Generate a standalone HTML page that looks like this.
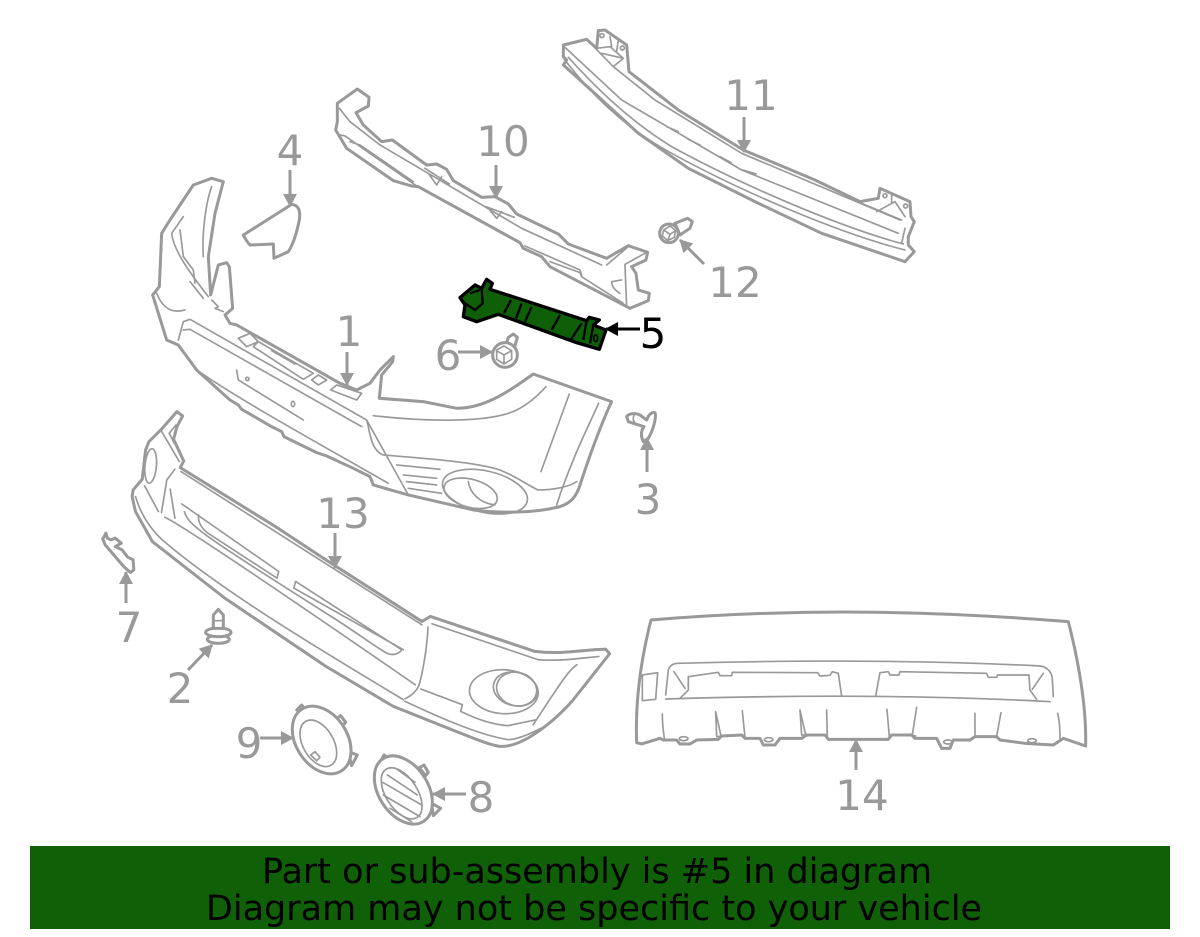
<!DOCTYPE html>
<html><head><meta charset="utf-8"><style>
html,body{margin:0;padding:0;background:#fff}
svg{display:block}
text{font-family:"DejaVu Sans",sans-serif}
.p{fill:#fff;stroke:#999;stroke-width:9;stroke-linejoin:round;stroke-linecap:round}
.t{fill:none;stroke:#999;stroke-width:5;stroke-linejoin:round;stroke-linecap:round}
.n{font-size:42px;fill:#999;text-anchor:middle}
.a{stroke:#999;stroke-width:3;fill:none}
</style></head><body>
<svg width="1200" height="937" viewBox="0 0 1200 937" xmlns="http://www.w3.org/2000/svg">
<defs>
<marker id="g" markerUnits="userSpaceOnUse" markerWidth="14" markerHeight="16" refX="12" refY="8" orient="auto"><path d="M0 1L13 8L0 15Z" fill="#999"/></marker>
<marker id="k" markerUnits="userSpaceOnUse" markerWidth="14" markerHeight="16" refX="12" refY="8" orient="auto"><path d="M0 1L13 8L0 15Z" fill="#000"/></marker>
</defs>
<rect width="1200" height="937" fill="#fff"/>

<!-- part 1 + part 4 + part 6 -->
<g transform="translate(140 170) scale(.3333)">
<path class="p" d="M38 375L58 350L65 190L90 150L160 45L215 25L250 35L225 130L205 260L212 375L235 285L260 278L268 290L278 415L255 435L270 460L290 465L600 640L650 660L690 640L720 600L760 560L758 575L725 615L718 685L850 695L950 715C1030 715 1100 670 1180 612L1415 695C1380 770 1345 870 1325 930C1310 985 1290 1000 1260 1010C1180 1030 1080 1030 1000 1020L805 975L700 945L690 920L640 895L560 858L530 848L432 800L425 785L395 770L305 718L295 705L270 690L170 600L115 525L80 510Z"/>
<path class="t" d="M205 380C150 310 100 240 95 190L130 140M120 180L130 260L160 300L165 340M190 260C185 180 200 90 215 50M150 335L190 385M50 370C70 420 100 430 135 420M115 510L130 455L150 448L680 750C690 780 690 840 730 855C850 865 1000 875 1080 900C1130 920 1170 950 1195 960C1240 960 1290 950 1310 935M130 480L150 478L665 770M170 600C300 690 500 800 745 940M290 600L295 630L490 750M700 737C850 755 1050 760 1130 720C1170 700 1200 670 1218 650M1288 672L1203 905M1376 700C1340 780 1290 880 1250 1005M680 750L805 975M770 885L900 898M790 915L890 925M800 935L890 945M805 955L905 970"/>
<ellipse class="t" cx="1035" cy="965" rx="130" ry="62" transform="rotate(13 1035 965)"/>
<ellipse class="t" cx="992" cy="970" rx="82" ry="42" transform="rotate(15 992 970)"/>
<path class="t" d="M985 935C990 970 1020 1000 1065 1005"/>
<path class="t" d="M295 505L330 490L355 515L320 530ZM340 530L355 515L520 610L490 628ZM395 542L465 582M515 630L535 615L560 630L535 645ZM572 660L590 645L665 670L650 690Z"/>
<circle class="t" cx="322" cy="627" r="5"/><ellipse class="t" cx="459" cy="702" rx="5" ry="8"/>
<path class="t" d="M215 390L235 410L225 415L250 425"/>
<!-- part 4 -->
<path class="p" d="M310 195L455 103C475 105 482 120 478 150C470 190 458 225 445 245L402 265L400 222L330 225C320 215 315 205 310 195Z"/>
</g>

<!-- part 6 -->
<g transform="translate(430 260) scale(.3333)">
<path class="p" d="M225 265L235 232L250 222L262 232L252 268Z"/>
<circle class="p" cx="225" cy="285" r="37"/>
<path class="t" d="M200 270L222 258L245 272L245 298L222 312L200 298ZM200 272L222 285L245 272M222 285L222 312"/>
</g>

<!-- part 13, 7 -->
<g transform="translate(90 400) scale(.337 .333)">
<path class="p" d="M258 35L275 48L258 80L248 118L278 183L268 203L550 380L700 480L985 665L1010 650L1320 755C1400 765 1460 750 1530 748L1542 762L1430 905C1390 950 1350 985 1300 1015C1270 1032 1240 1042 1215 1040C1180 1036 1100 1000 900 920L700 800L400 595L185 425L135 335L125 290L128 270L155 238L165 150L175 125L210 90Z"/>
<path class="t" d="M210 90L265 185M235 100L255 75M235 100L250 130M270 215L985 675M1015 672L1330 780C1400 785 1460 775 1510 770M162 258L203 335M252 208L228 240L212 338M238 268L252 355M135 290C150 340 175 385 220 425C400 580 700 760 930 900M222 352C270 375 500 530 965 855M272 312L560 515L555 535L350 400C330 385 320 365 322 345M280 335C290 375 340 410 700 640C780 690 830 730 880 760C900 770 920 760 925 750L610 545L605 565L930 750M1003 682C1000 750 985 830 975 860C965 880 950 890 935 897M982 868L1105 915L1100 935C1150 960 1200 975 1240 978L1325 960M1445 795C1420 810 1390 860 1315 975M935 905C1030 950 1150 1005 1240 1020C1270 1020 1310 1000 1340 985"/>
<ellipse class="t" cx="1228" cy="876" rx="102" ry="66" transform="rotate(3 1228 876)"/>
<ellipse class="t" cx="1262" cy="868" rx="66" ry="50" transform="rotate(15 1262 868)"/>
<ellipse class="t" cx="1266" cy="868" rx="60" ry="50" transform="rotate(15 1266 868)"/>
<ellipse class="t" cx="180" cy="198" rx="17" ry="52" transform="rotate(5 180 198)"/>
<path class="p" d="M47 400L38 418L45 435L100 500L120 518L130 510L128 480L112 472L95 450L75 440L93 430L75 415L62 420L52 415Z"/>
</g>

<!-- part 2 -->
<g transform="translate(195 600) scale(.3333)">
<ellipse class="p" cx="70" cy="118" rx="33" ry="12"/>
<ellipse class="p" cx="70" cy="97" rx="38" ry="13"/>
<path class="p" d="M55 85L55 45L70 28L85 45L85 85Z"/>
<path class="t" d="M55 62L85 62"/>
</g>

<!-- parts 9, 8 -->
<g transform="translate(280 695) scale(.3333)">
<path class="p" d="M50 45L65 30L75 42ZM170 70L182 62L197 82L188 92ZM205 170L232 180L215 212Z"/>
<ellipse class="p" cx="125" cy="135" rx="77" ry="110" transform="rotate(-33 125 135)"/>
<ellipse class="t" cx="115" cy="145" rx="46" ry="76" transform="rotate(-30 115 145)"/>
<path class="t" d="M92 180L105 170L120 187L110 197Z"/>
<path class="p" d="M298 205L312 180L325 190ZM418 218L432 210L445 232L437 242ZM455 325L482 340L460 362Z"/>
<ellipse class="p" cx="370" cy="285" rx="74" ry="112" transform="rotate(-33 370 285)"/>
<ellipse class="t" cx="365" cy="295" rx="47" ry="86" transform="rotate(-33 365 295)"/>
<path class="t" d="M322 240L412 300M308 262L425 330M310 300L420 365M330 340L395 380M350 222L405 262"/>
</g>

<!-- part 10 -->
<g transform="translate(330 80) scale(.3333)">
<path class="p" d="M22 70L82 27L117 52L115 78L78 98L100 135L155 185L187 180L290 255L320 252L350 268L370 302L455 352L495 350L535 372L560 402L685 462L715 492L830 535L895 497L953 517L948 540L905 560L918 580L925 630L958 640L955 662L900 685L660 560L635 530L580 505L570 488L265 320L245 318L190 302L50 205L17 150L22 125Z"/>
<path class="t" d="M28 85L60 125L150 195L575 445L815 555M30 165L45 168L260 318M60 185L90 195L250 305M585 498L750 570L755 585M660 545L750 578L755 590L880 670M830 555L895 500M885 553L945 520M885 555L890 680M845 605L875 600M845 605C845 620 855 630 870 640M285 265L358 312M295 280L320 315L335 290M468 380L553 412M475 385L500 415L515 395"/>
</g>

<!-- part 11, 12 -->
<g transform="translate(555 20) scale(.3333)">
<path class="p" d="M25 75L95 58L125 85L130 32L150 30L215 75L222 155L370 270L565 390L780 480L915 545L970 535L975 505L1065 545L1068 590L1078 605L1060 650L1060 675L1078 695L1050 725L800 640L600 545L400 445L250 340L130 230L25 135L35 120L25 110Z"/>
<path class="t" d="M28 118C100 210 200 320 350 400C550 510 850 640 1050 690M40 112C120 200 220 300 350 380C550 490 850 620 1045 672M30 82L200 240L560 450L1030 640M95 58L175 140L300 240L560 400L1035 600M125 85L165 80L205 115L175 140M140 100L205 115M165 50L170 80M190 60L185 95M335 320L370 335M400 358L435 375M495 410L528 428M563 450L603 462M915 548L1040 600M965 575L1020 545L1050 590M1010 525L1010 550M1050 625L1040 670"/>
<circle class="t" cx="141" cy="47" r="6"/><circle class="t" cx="202" cy="84" r="6"/>
<circle class="t" cx="990" cy="527" r="6"/><circle class="t" cx="1052" cy="558" r="6"/>
<!-- 12 -->
<path class="p" d="M360 610L398 595L412 605L405 625L375 645Z"/>
<circle class="p" cx="342" cy="640" r="28"/>
<path class="t" d="M326 630L345 618L362 632L358 652L338 662L322 648ZM326 630L345 643L362 632M345 643L338 662"/>
</g>

<!-- part 3 -->
<g transform="translate(620 400) scale(.3333)">
<path class="p" d="M20 50C25 40 45 38 60 45L80 60C85 45 95 35 105 38C110 50 100 90 85 115L70 125C60 105 65 90 72 80L40 70L25 65Z"/>
<path class="t" d="M42 45C38 55 40 65 45 68"/>
</g>

<!-- part 14 -->
<g transform="translate(625 600) scale(.3333)">
<path class="p" d="M78 60C500 25 900 30 1330 65C1360 180 1385 320 1382 438L1315 415L1285 435L1200 430L1125 420L1115 410L1050 410L1035 420L985 420L975 445L950 445L935 415L870 415L860 405L800 405L790 418L610 418L600 405L545 405L530 415L465 415L450 435L415 435L405 415L360 415L350 405L290 408L280 418L215 420L195 432L165 432L155 420L115 420L105 415L50 432L35 428C30 300 50 170 78 60Z"/>
<path class="t" d="M122 285L130 210C135 195 145 190 160 190C500 180 900 180 1245 198C1265 200 1280 215 1282 235L1285 290M122 297C500 285 900 285 1275 305M165 295L190 270L190 230L280 217L285 227L320 227L322 217L578 218L585 228L615 226L622 215L640 220L650 288M752 288L765 218L790 215L795 225L822 225L825 215L1085 220L1090 232L1115 232L1118 225L1212 225L1215 270L1235 298M147 215L180 265M1255 220L1222 268M52 225L98 218L92 298L52 302ZM112 342C112 370 115 395 118 415M272 335L275 410L288 408ZM352 332L360 412M525 330L530 405L542 405ZM605 330L607 412M786 328L793 410L800 405M875 322L862 405L872 408M1050 340L1050 410M1128 338L1115 410M1298 340C1305 365 1305 395 1305 415"/>
<ellipse class="t" cx="176" cy="416" rx="13" ry="6"/><ellipse class="t" cx="431" cy="419" rx="13" ry="6"/><ellipse class="t" cx="969" cy="426" rx="13" ry="6"/><ellipse class="t" cx="1221" cy="422" rx="13" ry="6"/>
</g>

<!-- part 5 highlighted -->
<g transform="translate(430 260) scale(.3333)">
<path d="M90 113L135 75L155 85L170 58L187 70L180 88L470 182L478 172L508 180L490 195L528 210L508 268L440 248L205 163L140 185L100 170L105 135Z" fill="#0f5f08" stroke="#000" stroke-width="10" stroke-linejoin="round"/>
<path d="M155 85L158 130L135 150L105 130M120 100L150 90M243 120L222 160M275 130L258 175M305 140L285 185M390 165L365 210M455 190L422 240M470 182L460 240M490 195L480 250" fill="none" stroke="#000" stroke-width="7"/>
<ellipse cx="497" cy="235" rx="6" ry="10" fill="none" stroke="#000" stroke-width="5"/>
</g>

<!-- arrows -->
<g class="a">
<path marker-end="url(#g)" d="M290 170V206"/>
<path marker-end="url(#g)" d="M496 165V198"/>
<path marker-end="url(#g)" d="M744 117V152"/>
<path marker-end="url(#g)" d="M704 264L680 240"/>
<path marker-end="url(#g)" d="M458 352H492"/>
<path marker-end="url(#g)" d="M347 352V385"/>
<path marker-end="url(#g)" d="M647 472V438"/>
<path marker-end="url(#g)" d="M335 533V568"/>
<path marker-end="url(#g)" d="M126 603V572"/>
<path marker-end="url(#g)" d="M188 670L212 645"/>
<path marker-end="url(#g)" d="M260 738H293"/>
<path marker-end="url(#g)" d="M466 794H433"/>
<path marker-end="url(#g)" d="M856 770V740"/>
<path marker-end="url(#k)" d="M640 329H606" style="stroke:#000"/>
</g>

<!-- labels -->
<text class="n" x="751" y="110">11</text>
<text class="n" x="503" y="156">10</text>
<text class="n" x="290" y="165">4</text>
<text class="n" x="735" y="297">12</text>
<text class="n" x="653" y="348" style="fill:#000">5</text>
<text class="n" x="448" y="370">6</text>
<text class="n" x="349" y="346">1</text>
<text class="n" x="648" y="514">3</text>
<text class="n" x="343" y="528">13</text>
<text class="n" x="129" y="642">7</text>
<text class="n" x="180" y="703">2</text>
<text class="n" x="249" y="758">9</text>
<text class="n" x="481" y="812">8</text>
<text class="n" x="862" y="810">14</text>

<!-- banner -->
<rect x="30" y="846" width="1140" height="83" fill="#0f6006"/>
<text x="597" y="883" font-size="35" text-anchor="middle" fill="#000">Part or sub-assembly is #5 in diagram</text>
<text x="594" y="920" font-size="35" text-anchor="middle" fill="#000">Diagram may not be specific to your vehicle</text>
</svg>
</body></html>
